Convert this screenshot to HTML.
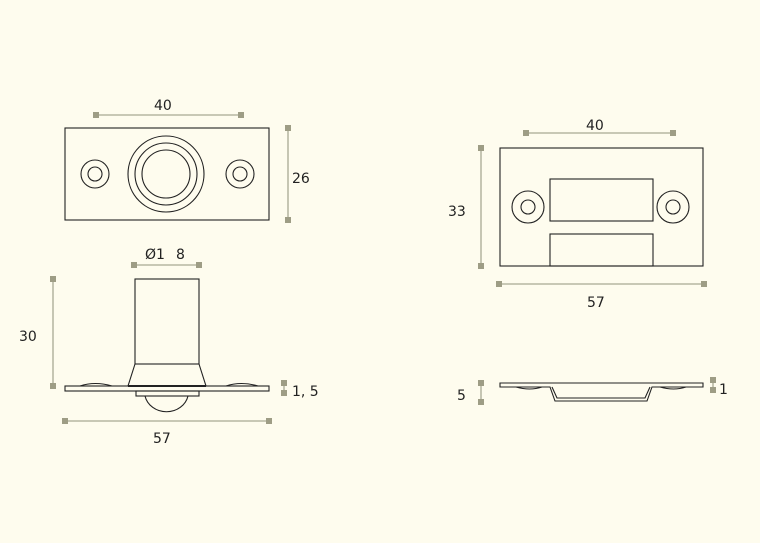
<!DOCTYPE html><html><head><style>body{margin:0;background:#fefcee}svg{display:block}text{font-family:"DejaVu Sans","Liberation Sans",sans-serif;font-size:14px;fill:#222}</style></head><body>
<svg width="760" height="543" viewBox="0 0 760 543">
<rect width="760" height="543" fill="#fefcee"/>
<g stroke="#a9a893" stroke-width="1.3">
<line x1="96" y1="115" x2="241" y2="115"/><line x1="288" y1="128" x2="288" y2="220"/>
<line x1="53" y1="279" x2="53" y2="386"/><line x1="134" y1="265" x2="199" y2="265"/>
<line x1="65" y1="421" x2="269" y2="421"/><line x1="284" y1="383" x2="284" y2="393"/>
<line x1="526" y1="133" x2="673" y2="133"/><line x1="481" y1="148" x2="481" y2="266"/>
<line x1="499" y1="284" x2="704" y2="284"/><line x1="481" y1="383" x2="481" y2="402"/>
<line x1="713" y1="380" x2="713" y2="390"/>
</g>
<g fill="#9e9d85">
<rect x="93" y="112" width="6" height="6"/><rect x="238" y="112" width="6" height="6"/>
<rect x="285" y="125" width="6" height="6"/><rect x="285" y="217" width="6" height="6"/>
<rect x="50" y="276" width="6" height="6"/><rect x="50" y="383" width="6" height="6"/>
<rect x="131" y="262" width="6" height="6"/><rect x="196" y="262" width="6" height="6"/>
<rect x="62" y="418" width="6" height="6"/><rect x="266" y="418" width="6" height="6"/>
<rect x="281" y="380" width="6" height="6"/><rect x="281" y="390" width="6" height="6"/>
<rect x="523" y="130" width="6" height="6"/><rect x="670" y="130" width="6" height="6"/>
<rect x="478" y="145" width="6" height="6"/><rect x="478" y="263" width="6" height="6"/>
<rect x="496" y="281" width="6" height="6"/><rect x="701" y="281" width="6" height="6"/>
<rect x="478" y="380" width="6" height="6"/><rect x="478" y="399" width="6" height="6"/>
<rect x="710" y="377" width="6" height="6"/><rect x="710" y="387" width="6" height="6"/>
</g>
<g fill="none" stroke="#222" stroke-width="1.1">
<rect x="65" y="128" width="204" height="92"/>
<circle cx="95" cy="174" r="14"/><circle cx="95" cy="174" r="7"/>
<circle cx="240" cy="174" r="14"/><circle cx="240" cy="174" r="7"/>
<circle cx="166" cy="174" r="38"/><circle cx="166" cy="174" r="31"/><circle cx="166" cy="174" r="24"/>
<rect x="135" y="279" width="64" height="85"/>
<path d="M135 364H199L206 386H128Z"/>
<rect x="65" y="386" width="204" height="5"/>
<path d="M80 386Q95 381 112 386M226 386Q241 381 258 386"/>
<rect x="136" y="391" width="63" height="5"/>
<path d="M145 396A22 20 0 0 0 188 396"/>
<rect x="500" y="148" width="203" height="118"/>
<circle cx="528" cy="207" r="16"/><circle cx="528" cy="207" r="7"/>
<circle cx="673" cy="207" r="16"/><circle cx="673" cy="207" r="7"/>
<rect x="550" y="179" width="103" height="42"/>
<rect x="550" y="234" width="103" height="32"/>
<path d="M500 383H703V387H652L647 401H555L550 387H500Z"/>
<path d="M552 387L557 398H645L650 387"/>
<path d="M516 387Q530 391 542 387M660 387Q674 391 686 387"/>
</g>
<line x1="128" y1="386" x2="206" y2="386" stroke="#222" stroke-width="2"/>
<text x="154" y="110">40</text><text x="292" y="183">26</text>
<text x="145" y="259">Ø1</text><text x="176" y="259">8</text><text x="19" y="341">30</text>
<text x="292" y="396">1, 5</text><text x="153" y="443">57</text>
<text x="586" y="130">40</text><text x="448" y="216">33</text>
<text x="587" y="307">57</text><text x="457" y="400">5</text><text x="719" y="394">1</text>
</svg></body></html>
